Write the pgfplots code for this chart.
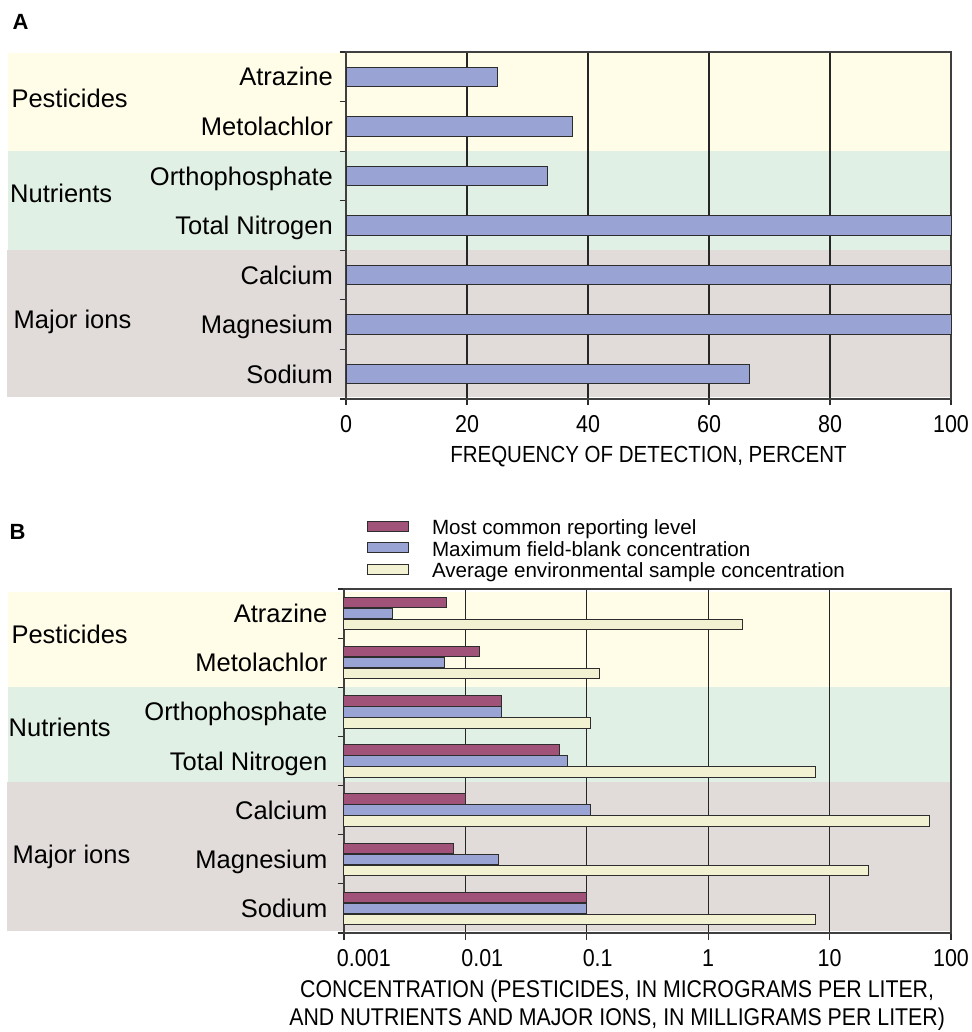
\documentclass[border=0pt]{standalone}
\usepackage{fontspec}
\setmainfont{Liberation Sans}
\newfontfamily\cond{Liberation Sans}[FakeStretch=0.88]
\usepackage{pgfplots}
\pgfplotsset{compat=1.18}

\definecolor{pest}{RGB}{255,252,231}
\definecolor{nutr}{RGB}{225,240,229}
\definecolor{majr}{RGB}{225,220,218}
\definecolor{bluebar}{RGB}{153,164,212}
\definecolor{magbar}{RGB}{160,82,120}
\definecolor{creambar}{RGB}{242,242,210}
\definecolor{edge}{RGB}{45,45,45}

\pgfplotsset{
  panel/.style={
    scale only axis, xbar, clip=false,
    ymin=-0.5, ymax=6.5,
    ytick={-0.5,0.5,...,6.5}, yticklabels={},
    extra y ticks={0,1,2,3,4,5,6},
    extra y tick labels={Sodium,Magnesium,Calcium,Total Nitrogen,Orthophosphate,Metolachlor,Atrazine},
    extra y tick style={major tick length=0pt, tick style={draw=none}},
    tick align=outside, tick pos=left, major tick length=6.5pt,
    tick style={draw=edge, line width=1.2pt},
    xmajorgrids, grid style={draw=black!85, line width=1.1pt},
    axis line style={draw=black!75, line width=1.4pt},
    yticklabel style={font=\fontsize{25.5}{30}\selectfont, anchor=base east, inner sep=0pt, yshift=-9.1pt},
    xticklabel style={font=\cond\fontsize{24.4}{28}\selectfont, inner sep=0pt, yshift=-10pt},
    xlabel style={font=\cond\fontsize{23.3}{28}\selectfont, inner sep=0pt, align=center, yshift=-13pt},
  },
}

\begin{document}
\begin{tikzpicture}
\path[use as bounding box] (0pt,0pt) rectangle (971pt,1032pt);
% coloured bands behind panel A
\fill[pest] (8pt,881pt) rectangle (951pt,979pt);
\fill[nutr] (8pt,782pt) rectangle (951pt,881pt);
\fill[majr] (7pt,635.3pt) rectangle (951pt,782pt);
% coloured bands behind panel B
\fill[pest] (8pt,345pt) rectangle (951pt,440.3pt);
\fill[nutr] (8pt,249.5pt) rectangle (951pt,345pt);
\fill[majr] (7pt,101.3pt) rectangle (951pt,249.5pt);

% Panel A
\begin{axis}[panel, at={(346pt,633pt)}, anchor=south west,
  width=605pt, height=347pt,
  xmin=0, xmax=100, xtick={0,20,40,60,80,100},
  xticklabels={0,20,40,60,80,100},
  yticklabel style={xshift=-13pt},
  xlabel={FREQUENCY OF DETECTION, PERCENT},
  bar width=19.5pt]
\addplot[fill=bluebar, draw=edge, line width=1pt] coordinates {
  (66.7,0) (100,1) (100,2) (100,3) (33.3,4) (37.5,5) (25,6)
};
\end{axis}

% Panel B
\begin{axis}[panel, at={(344pt,99pt)}, anchor=south west,
  width=607pt, height=344pt,
  xmode=log, log origin x=infty, xmin=0.001, xmax=100,
  xtick={0.001,0.01,0.1,1,10,100},
  xticklabels={\makebox[0pt][l]{\hspace*{-7pt}0.001},\makebox[0pt][l]{\hspace*{-4pt}0.01},\makebox[0pt][l]{\hspace*{-4pt}0.1},1,10,100},
  xminorticks=false,
  yticklabel style={xshift=-16.5pt},
  xlabel={CONCENTRATION (PESTICIDES, IN MICROGRAMS PER LITER,\\AND NUTRIENTS AND MAJOR IONS, IN MILLIGRAMS PER LITER)},
  xlabel style={at={(ticklabel cs:0.45)}, anchor=north, font=\cond\fontsize{24.2}{28}\selectfont},
  bar width=10.5pt,
  legend style={at={(0.0379,1.2006)}, anchor=north west, draw=none, fill=none,
    inner sep=0pt, outer sep=0pt, row sep=-0.4pt,
    nodes={inner sep=0pt, text height=14.75pt, text depth=6.95pt,
      font=\fontsize{20.6}{24}\selectfont},
    /tikz/every odd column/.append style={column sep=23pt}},
  legend cell align=left,
  legend image code/.code={\draw[#1, line width=1pt] (0pt,-0.8pt) rectangle (41pt,9.2pt);}]
\addplot[fill=magbar, draw=edge, line width=1pt, bar shift=11pt] coordinates {
  (0.1,0) (0.008,1) (0.01,2) (0.06,3) (0.02,4) (0.013,5) (0.007,6)
};
\addplot[fill=bluebar, draw=edge, line width=1pt, bar shift=0pt] coordinates {
  (0.1,0) (0.0188,1) (0.107,2) (0.069,3) (0.02,4) (0.0067,5) (0.0025,6)
};
\addplot[fill=creambar, draw=edge, line width=1pt, bar shift=-11pt] coordinates {
  (7.7,0) (21,1) (67,2) (7.7,3) (0.107,4) (0.127,5) (1.9,6)
};
\legend{Most common reporting level, Maximum field-blank concentration, Average environmental sample concentration}
\end{axis}

% group labels and panel letters
\begin{scope}[every node/.style={inner sep=0pt, anchor=base west, font=\fontsize{25.5}{30}\selectfont}]
\node at (11.3pt,924.7pt) {Pesticides};
\node at (10pt,829.5pt) {Nutrients};
\node at (13.5pt,703.7pt) {Major ions};
\node at (11.3pt,388.7pt) {Pesticides};
\node at (8.5pt,295.3pt) {Nutrients};
\node at (12.5pt,168.7pt) {Major ions};
\node[font=\bfseries\fontsize{22}{26}\selectfont] at (12.5pt,1002pt) {A};
\node[font=\bfseries\fontsize{22}{26}\selectfont] at (9.5pt,492pt) {B};
\end{scope}
\end{tikzpicture}
\end{document}
